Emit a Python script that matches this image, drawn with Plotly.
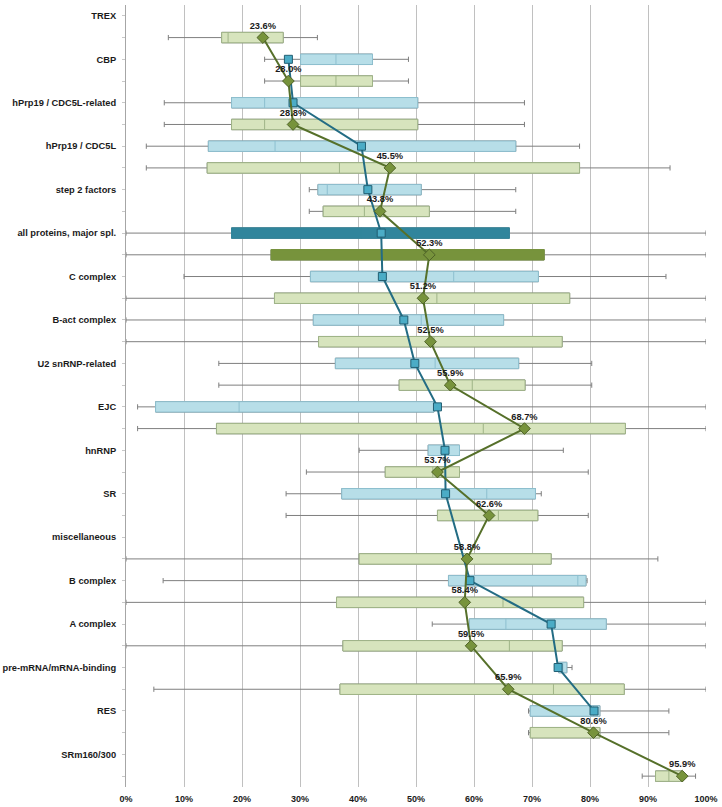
import plotly.graph_objects as go

categories = ["TREX", "CBP", "hPrp19 / CDC5L-related", "hPrp19 / CDC5L", "step 2 factors",
              "all proteins, major spl.", "C complex", "B-act complex", "U2 snRNP-related", "EJC",
              "hnRNP", "SR", "miscellaneous", "B complex", "A complex",
              "pre-mRNA/mRNA-binding", "RES", "SRm160/300"]
highlight = "all proteins, major spl."

# blue series (upper row of each category)
blue_min = [None, 23.9, 6.6, 3.5, 31.6, 0.0, 10.0, 0.0, 16.0, 2.0, 40.2, 27.6, None, 6.4, 52.8, 73.9, 69.4, None]
blue_q1 = [None, 30.1, 18.2, 14.2, 33.1, 18.2, 31.8, 32.3, 36.1, 5.1, 52.1, 37.2, None, 55.6, 59.2, 74.6, 69.7, None]
blue_med = [None, 36.2, 23.9, 25.7, 34.7, 40.6, 56.5, 50.9, 53.3, 19.5, 55.0, 62.2, None, 77.9, 65.5, 75.3, 80.6, None]
blue_q3 = [None, 42.5, 50.3, 67.2, 50.9, 66.1, 71.1, 65.1, 67.7, 53.1, 57.5, 70.6, None, 79.3, 82.8, 76.0, 81.7, None]
blue_max = [None, 48.7, 68.7, 78.2, 67.2, 100.0, 93.1, 100.0, 80.3, 100.0, 75.4, 71.6, None, 79.5, 100.0, 76.9, 93.6, None]
blue_mean = [None, 28.0, 28.8, 40.6, 41.7, 44.0, 44.2, 47.9, 49.8, 53.7, 55.0, 55.1, None, 59.3, 73.3, 74.5, 80.7, None]

# green series (lower row of each category)
green_min = [7.3, 23.9, 6.6, 3.5, 31.6, 0.0, 0.0, 0.0, 16.0, 2.0, 31.1, 27.6, 0.0, 0.0, 0.0, 4.8, 69.4, 89.0]
green_q1 = [16.5, 30.1, 18.2, 14.0, 34.0, 25.0, 25.6, 33.2, 47.1, 15.6, 44.7, 53.7, 40.2, 36.3, 37.4, 36.9, 69.7, 91.3]
green_med = [17.6, 36.2, 23.9, 36.8, 41.1, 52.0, 53.6, 53.1, 59.7, 61.6, 52.9, 64.2, 58.5, 65.0, 66.1, 73.7, 80.6, 93.6]
green_q3 = [27.1, 42.5, 50.3, 78.2, 52.3, 72.1, 76.5, 75.2, 68.8, 86.1, 57.5, 71.0, 73.3, 78.9, 75.2, 85.9, 81.7, 95.9]
green_max = [33.0, 48.7, 68.7, 93.8, 67.2, 100.0, 100.0, 100.0, 80.3, 100.0, 79.7, 79.7, 91.7, 100.0, 100.0, 100.0, 93.6, 98.2]
green_mean = [23.6, 28.0, 28.8, 45.5, 43.8, 52.3, 51.2, 52.5, 55.9, 68.7, 53.7, 62.6, 58.8, 58.4, 59.5, 65.9, 80.6, 95.9]

x_ticks = [0, 10, 20, 30, 40, 50, 60, 70, 80, 90, 100]
x_tick_labels = [f"{v}%" for v in x_ticks]

BOX_W = 0.48
WHISKER = "#7f7f7f"

fig = go.Figure()


def add_boxes(offset, mins, q1s, meds, q3s, maxs, fill, border, want_highlight):
    pos, a, b, c, d, e = [], [], [], [], [], []
    for i, cat in enumerate(categories):
        if mins[i] is None:
            continue
        if (cat == highlight) != want_highlight:
            continue
        pos.append(2 * i + offset)
        a.append(mins[i]); b.append(q1s[i]); c.append(meds[i]); d.append(q3s[i]); e.append(maxs[i])
    if not pos:
        return
    # whiskers (grey)
    fig.add_trace(go.Box(y=pos, q1=b, median=c, q3=d, lowerfence=a, upperfence=e,
                         orientation="h", width=BOX_W, whiskerwidth=0.5,
                         fillcolor=fill, line=dict(color=WHISKER, width=1),
                         boxpoints=False, hoverinfo="skip", showlegend=False))
    # box body (coloured outline)
    fig.add_trace(go.Box(y=pos, q1=b, median=c, q3=d, lowerfence=b, upperfence=d,
                         orientation="h", width=BOX_W, whiskerwidth=0,
                         fillcolor=fill, line=dict(color=border, width=1),
                         boxpoints=False, hoverinfo="skip", showlegend=False))


add_boxes(0, blue_min, blue_q1, blue_med, blue_q3, blue_max, "#b7dee8", "#8dbfcf", False)
add_boxes(1, green_min, green_q1, green_med, green_q3, green_max, "#d7e4bd", "#9fb487", False)
add_boxes(0, blue_min, blue_q1, blue_med, blue_q3, blue_max, "#31859c", "#31859c", True)
add_boxes(1, green_min, green_q1, green_med, green_q3, green_max, "#77933c", "#77933c", True)

blue_y = [2 * i for i in range(len(categories))]
green_y = [2 * i + 1 for i in range(len(categories))]

fig.add_trace(go.Scatter(x=blue_mean, y=blue_y, mode="lines+markers", connectgaps=True,
                         line=dict(color="#236c84", width=2),
                         marker=dict(symbol="square", size=8, color="#4bacc6",
                                     line=dict(color="#215e72", width=1)),
                         showlegend=False))
fig.add_trace(go.Scatter(x=green_mean, y=green_y, mode="lines+markers+text",
                         line=dict(color="#56702a", width=2),
                         marker=dict(symbol="diamond", size=9, color="#77933c",
                                     line=dict(color="#4f6228", width=1)),
                         texttemplate="%{x:.1f}%", textposition="top center",
                         textfont=dict(family="Liberation Sans, Arial", size=9.3, color="#1a1a1a", weight="bold"),
                         showlegend=False))

tickvals = list(range(2 * len(categories)))
ticktext = []
for cat in categories:
    ticktext += [cat, ""]

fig.update_layout(
    width=722, height=807,
    margin=dict(l=126, r=16, t=5, b=20, autoexpand=False),
    paper_bgcolor="white", plot_bgcolor="white",
    boxmode="overlay",
    showlegend=False,
    font=dict(family="Liberation Sans, Arial", color="#1a1a1a"),
)
fig.update_xaxes(range=[0, 100], tickvals=x_ticks, ticktext=x_tick_labels, automargin=False,
                 showgrid=True, gridcolor="#c0c0c0", gridwidth=1, zeroline=False,
                 showline=False, ticks="", ticklabelstandoff=5,
                 tickfont=dict(size=9, weight="bold", color="#1a1a1a"))
fig.update_yaxes(range=[35.5, -0.5], tickvals=tickvals, ticktext=ticktext, automargin=False,
                 showgrid=False, zeroline=False, showline=True, linecolor="#a6a6a6", linewidth=1,
                 ticks="outside", ticklen=3, tickcolor="#c8c8c8", ticklabelstandoff=4,
                 tickfont=dict(size=9.3, weight="bold", color="#1a1a1a"))

fig.write_html("out.html", config={"displayModeBar": False},
               post_script="document.body.style.margin='0';document.body.style.overflow='hidden';")
